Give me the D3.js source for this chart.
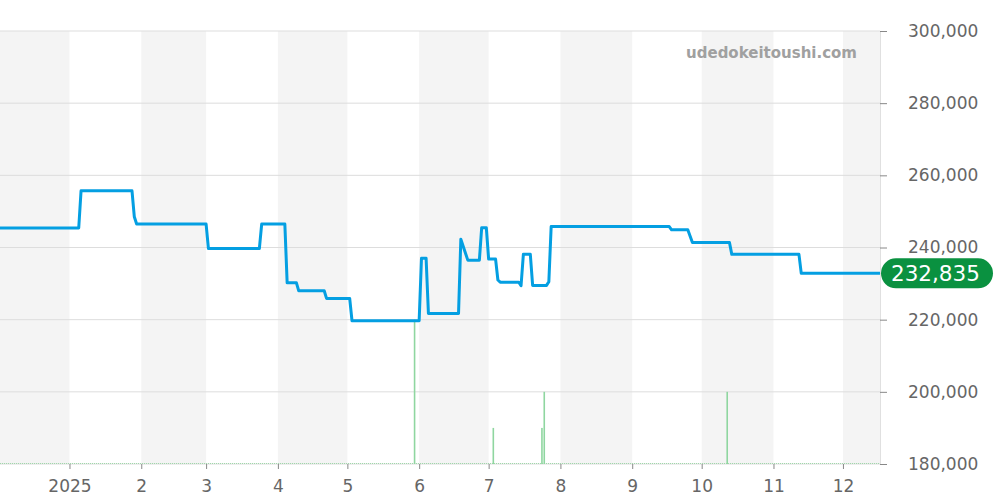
<!DOCTYPE html>
<html><head><meta charset="utf-8">
<script src="https://cdn.jsdelivr.net/npm/d3@7/dist/d3.min.js"></script>
<style>
html,body{margin:0;padding:0;background:#fff;}
svg{display:block;font-family:"DejaVu Sans",sans-serif;}
</style></head>
<body><svg id="chart" width="1000" height="500"></svg>
<script>
// Price series (breakpoints of the daily series)
const priceDates = ["2024-12-02","2025-01-05","2025-01-06","2025-01-28","2025-01-29","2025-01-30","2025-03-01","2025-03-02","2025-03-24","2025-03-25","2025-04-04","2025-04-05","2025-04-09","2025-04-10","2025-04-21","2025-04-22","2025-05-02","2025-05-03","2025-06-01","2025-06-02","2025-06-04","2025-06-05","2025-06-18","2025-06-19","2025-06-22","2025-06-27","2025-06-28","2025-06-30","2025-07-01","2025-07-04","2025-07-05","2025-07-06","2025-07-14","2025-07-15","2025-07-16","2025-07-19","2025-07-20","2025-07-26","2025-07-27","2025-07-28","2025-09-17","2025-09-18","2025-09-25","2025-09-27","2025-10-13","2025-10-14","2025-11-12","2025-11-13","2025-12-17"];
const priceValues = [245400,245400,255700,255700,248500,246500,246500,239700,239700,246500,246500,230200,230200,228000,228000,225900,225900,219700,219700,237000,237000,221700,221700,242300,236500,236500,245500,245500,236800,236800,231000,230400,230400,229400,238100,238100,229500,229500,230500,245800,245800,244900,244900,241400,241400,238100,238100,232835,232835];
// Volume bars
const volumeDates = ["2025-05-30","2025-07-03","2025-07-24","2025-07-25","2025-10-12"];
const volumeValues = [4,1,1,2,2];
// Axis ticks
const yTicks = [180000,200000,220000,240000,260000,280000,300000];
const monthTicks = ["2025-01-01","2025-02-01","2025-03-01","2025-04-01","2025-05-01","2025-06-01","2025-07-01","2025-08-01","2025-09-01","2025-10-01","2025-11-01","2025-12-01"];
const monthLabels = ["2025","2","3","4","5","6","7","8","9","10","11","12"];
const bandStarts = ["2024-12-02","2025-02-01","2025-04-01","2025-06-01","2025-08-01","2025-10-01","2025-12-01"];
const bandEnds   = ["2025-01-01","2025-03-01","2025-05-01","2025-07-01","2025-09-01","2025-11-01","2025-12-17"];
const lastPrice = 232835;
const watermark = "udedokeitoushi.com";

const parse = d3.utcParse("%Y-%m-%d");
const svg = d3.select("#chart");
const L = 0, R = 880, T = 31, B = 464;

const x = d3.scaleUtc().domain([parse("2024-12-02"), parse("2025-12-17")]).range([L, R]);
const y = d3.scaleLinear().domain([180000, 300000]).range([B, T]);
const yv = d3.scaleLinear().domain([0, 12]).range([B, T]);

// bands
svg.append("g").selectAll("rect").data(bandStarts).join("rect")
  .attr("x", (d) => x(parse(d)))
  .attr("width", (d, i) => x(parse(bandEnds[i])) - x(parse(d)))
  .attr("y", T).attr("height", B - T)
  .attr("fill", "#f4f4f4");

// grid
svg.append("g").selectAll("line").data(yTicks).join("line")
  .attr("x1", L).attr("x2", R)
  .attr("y1", d => y(d)).attr("y2", d => y(d))
  .attr("stroke", "#dddddd").attr("stroke-width", 1);

// watermark
svg.append("text").attr("x", 857).attr("y", 58).attr("text-anchor", "end")
  .attr("font-size", 15).attr("font-weight", "bold").attr("fill", "#a0a0a0")
  .text(watermark);

// baseline dotted volume line
svg.append("line").attr("x1", L).attr("x2", R).attr("y1", B - 0.5).attr("y2", B - 0.5)
  .attr("stroke", "#9ed9aa").attr("stroke-width", 1).attr("stroke-dasharray", "1,1");

// volume bars
svg.append("g").selectAll("rect").data(volumeDates).join("rect")
  .attr("x", d => x(parse(d)) - 0.75)
  .attr("width", 1.6)
  .attr("y", (d, i) => yv(volumeValues[i]))
  .attr("height", (d, i) => B - yv(volumeValues[i]))
  .attr("fill", "#8fd6a0");

// price line
const pts = priceDates.map((d, i) => [parse(d), priceValues[i]]);
svg.append("path").datum(pts)
  .attr("d", d3.line().x(d => x(d[0])).y(d => y(d[1])))
  .attr("fill", "none").attr("stroke", "#049fe2").attr("stroke-width", 3)
  .attr("stroke-linejoin", "round");

// right y axis
const yAxis = d3.axisRight(y).tickValues(yTicks).tickSize(7).tickPadding(21)
  .tickFormat(d3.format(","));
const gy = svg.append("g").attr("transform", `translate(${R},0)`).call(yAxis);
gy.select(".domain").attr("stroke", "#e0e0e0");
gy.selectAll(".tick line").attr("stroke", "#888");
gy.selectAll(".tick text").attr("fill", "#666").attr("font-size", 17)
  .attr("font-family", "DejaVu Sans, sans-serif");

// bottom x axis
const xAxis = d3.axisBottom(x).tickValues(monthTicks.map(parse)).tickSize(5).tickPadding(11)
  .tickFormat((d, i) => monthLabels[i]);
const gx = svg.append("g").attr("transform", `translate(0,${B})`).call(xAxis);
gx.select(".domain").remove();
gx.selectAll(".tick line").attr("stroke", "#888");
gx.selectAll(".tick text").attr("fill", "#666").attr("font-size", 17)
  .attr("font-family", "DejaVu Sans, sans-serif");

// last price badge
const by = y(lastPrice);
svg.append("rect").attr("x", 881).attr("y", by - 15).attr("width", 112).attr("height", 30)
  .attr("rx", 15).attr("ry", 15).attr("fill", "#0a9140");
svg.append("text").attr("x", 891).attr("y", by + 7.5).attr("font-size", 21.5)
  .attr("fill", "#fff").text(d3.format(",")(lastPrice));
</script></body></html>
